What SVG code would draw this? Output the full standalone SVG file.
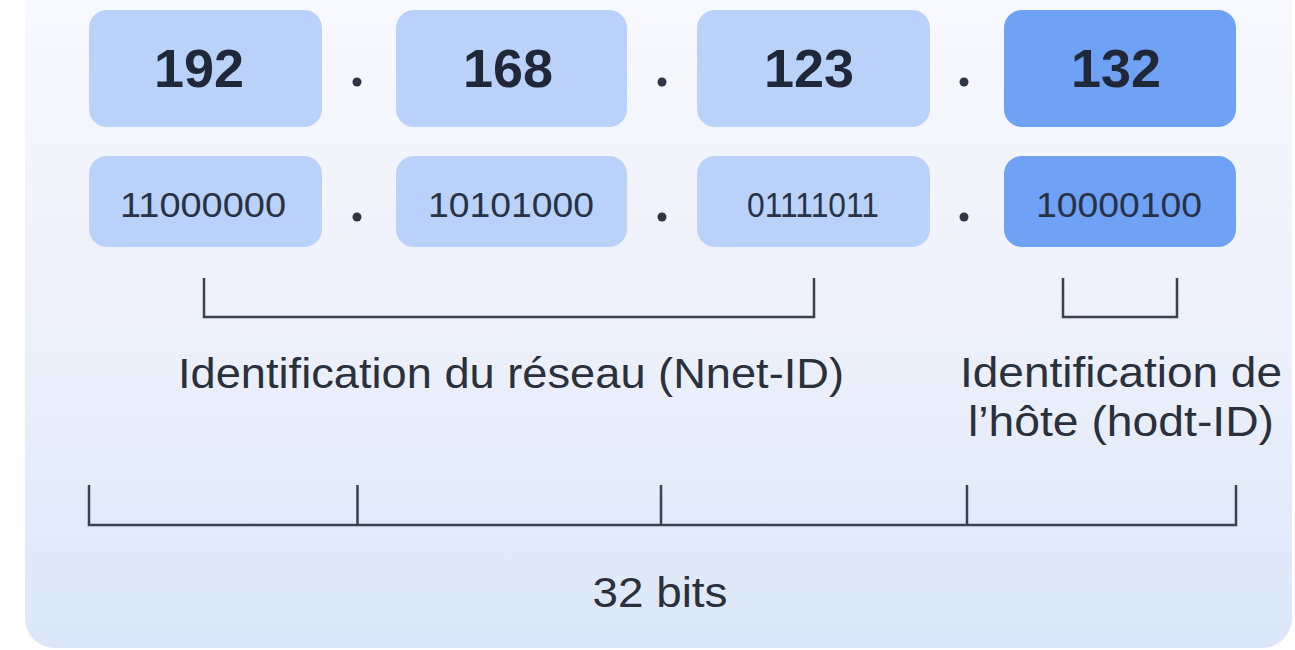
<svg xmlns="http://www.w3.org/2000/svg" width="1295" height="650" viewBox="0 0 1295 650">
<defs>
<linearGradient id="bg" x1="0" y1="0" x2="0" y2="1">
<stop offset="0" stop-color="#f9fafe"/>
<stop offset="0.5" stop-color="#eef1fb"/>
<stop offset="1" stop-color="#dbe7f8"/>
</linearGradient>
<style>
.lt{fill:#bad2fa}
.dk{fill:#6fa1f5}
.big{font-family:"Liberation Sans",Arial,sans-serif;font-weight:bold;font-size:54px;fill:#1f2739;text-anchor:middle}
.bin{font-family:"Liberation Sans",Arial,sans-serif;font-size:35px;fill:#283145;text-anchor:middle}
.lbl{font-family:"Liberation Sans",Arial,sans-serif;font-size:42px;fill:#2a303c;text-anchor:middle}
.dot{fill:#2f3544}
.ln{fill:none;stroke:#3a4151;stroke-width:2.5}
</style>
</defs>
<rect x="0" y="0" width="1295" height="650" fill="#ffffff"/>
<rect x="25" y="-40" width="1267" height="688" rx="30" fill="url(#bg)"/>

<g id="oct1">
<rect class="lt" x="89" y="10" width="233" height="117" rx="18"/>
<text class="big" x="199" y="87">192</text>
</g>
<g id="oct2">
<rect class="lt" x="396" y="10" width="231" height="117" rx="18"/>
<text class="big" x="508" y="87">168</text>
</g>
<g id="oct3">
<rect class="lt" x="697" y="10" width="233" height="117" rx="18"/>
<text class="big" x="809" y="87">123</text>
</g>
<g id="oct4">
<rect class="dk" x="1004" y="10" width="232" height="117" rx="18"/>
<text class="big" x="1116" y="87">132</text>
</g>

<g id="bin1">
<rect class="lt" x="89" y="156" width="233" height="91" rx="18"/>
<text class="bin" x="203" y="217" textLength="166" lengthAdjust="spacingAndGlyphs">11000000</text>
</g>
<g id="bin2">
<rect class="lt" x="396" y="156" width="231" height="91" rx="18"/>
<text class="bin" x="511" y="217" textLength="166" lengthAdjust="spacingAndGlyphs">10101000</text>
</g>
<g id="bin3">
<rect class="lt" x="697" y="156" width="233" height="91" rx="18"/>
<text class="bin" x="813" y="217" textLength="132" lengthAdjust="spacingAndGlyphs">01111011</text>
</g>
<g id="bin4">
<rect class="dk" x="1004" y="156" width="232" height="91" rx="18"/>
<text class="bin" x="1119" y="217" textLength="166" lengthAdjust="spacingAndGlyphs">10000100</text>
</g>

<g id="dots">
<circle class="dot" cx="357" cy="82" r="4.5"/>
<circle class="dot" cx="662" cy="82" r="4.5"/>
<circle class="dot" cx="964" cy="82" r="4.5"/>
<circle class="dot" cx="357" cy="217" r="4.5"/>
<circle class="dot" cx="662" cy="217" r="4.5"/>
<circle class="dot" cx="964" cy="217" r="4.5"/>
</g>

<g id="connectors">
<path class="ln" d="M204 278 V317 H814 V278"/>
<path class="ln" d="M1063 278 V317 H1177 V278"/>
<path class="ln" d="M89 485 V525 H1236 V485"/>
<path class="ln" d="M357.5 485 V525 M661 485 V525 M967 485 V525"/>
</g>

<g id="net-label">
<text class="lbl" x="511" y="388" textLength="666" lengthAdjust="spacingAndGlyphs">Identification du réseau (Nnet-ID)</text>
</g>
<g id="host-label">
<text class="lbl" x="1121" y="387" textLength="322" lengthAdjust="spacingAndGlyphs">Identification de</text>
<text class="lbl" x="1121" y="436" textLength="306" lengthAdjust="spacingAndGlyphs">l’hôte (hodt-ID)</text>
</g>
<g id="bits-label">
<text class="lbl" x="660" y="607" textLength="135" lengthAdjust="spacingAndGlyphs">32 bits</text>
</g>
</svg>
